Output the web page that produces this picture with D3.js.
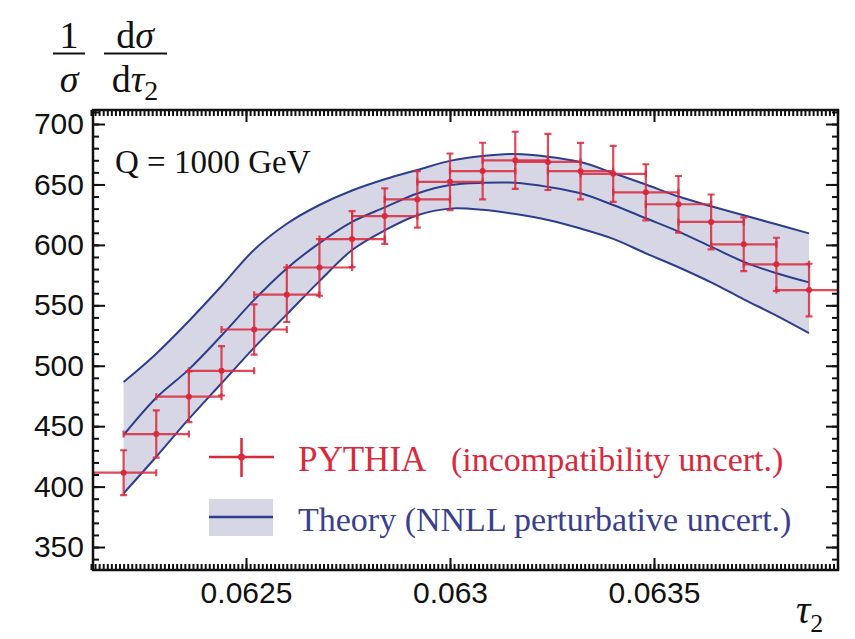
<!DOCTYPE html>
<html>
<head>
<meta charset="utf-8">
<script src="https://d3js.org/d3.v7.min.js"></script>
<style>
  body { margin: 0; background: #fff; }
  .tick text { font-family: "Liberation Sans", Arial, sans-serif; font-size: 30px; fill: #111; }
  .serif { font-family: "Liberation Serif", "Times New Roman", serif; }
</style>
</head>
<body>
<svg width="855" height="639"></svg>
<script>
// PYTHIA points (bin centres in tau2, value, vertical error)
const tau = d3.range(22).map(i => 0.0622 + i * 0.00008)
const halfBin = 0.00008
const pythia = [411.5, 443.5, 474.4, 495.8, 530, 558.8, 581.3, 604.8, 623.8, 637.6, 652.2,
                661.1, 670, 668.6, 661, 658.8, 643.5, 633.6, 619, 600.5, 583.9, 562.6]
const pythiaErr = [18.6, 19.6, 21, 20.4, 20.8, 22.6, 23.4, 23.2, 23, 23.4, 23.4,
                   23.4, 23.6, 23.2, 23.4, 23.2, 23.2, 23.4, 22.7, 22.2, 22, 21.8]
// theory band (NNLL), sampled at the same tau2 values
const theoryUpper = [486.5, 510, 537, 566, 596, 617.5, 633, 645, 654.3, 662, 669.5,
                     673.5, 675.2, 673, 668.5, 659.5, 650, 640, 632, 624.5, 617, 609.5]
const theoryCentral = [442.7, 473.5, 497, 525, 554.5, 580.5, 601.5, 619, 631, 642.5, 649.5,
                       651.4, 651.4, 648, 642.7, 633, 622, 611, 598.5, 586, 576.5, 569]
const theoryLower = [394.4, 424.7, 456, 485.5, 515, 542.5, 570, 595.7, 612, 624.5, 630,
                     629, 625.5, 620.6, 613.5, 605, 593, 581.5, 569, 555, 541.5, 527]

const xTicks = [0.0625, 0.063, 0.0635]
const xTickLabels = ["0.0625", "0.063", "0.0635"]
const xMinor = d3.range(6212, 6396).map(d => d / 100000)
const yTicks = [350, 400, 450, 500, 550, 600, 650, 700]
const yMinor = d3.range(340, 711, 10)

const red = "#d9293d"
const blue = "#2e3d8c"

const svg = d3.select("svg")
const m = {left: 93, right: 838, top: 110, bottom: 570}

const x = d3.scaleLinear().domain([0.062125, 0.063951]).range([m.left, m.right])
const y = d3.scaleLinear().domain([331, 711.6]).range([m.bottom, m.top])

svg.append("defs").append("clipPath").attr("id", "clip")
  .append("rect").attr("x", m.left).attr("y", m.top)
  .attr("width", m.right - m.left).attr("height", m.bottom - m.top)

const rows = tau.map((t, i) => ({
  t: t, v: pythia[i], e: pythiaErr[i],
  hi: theoryUpper[i], mid: theoryCentral[i], lo: theoryLower[i]
}))

const curve = d3.curveCatmullRom.alpha(0.5)

// theory band
const g = svg.append("g").attr("clip-path", "url(#clip)")
g.append("path")
  .datum(rows)
  .attr("fill", "#d6d6e5")
  .attr("d", d3.area().x(d => x(d.t)).y0(d => y(d.lo)).y1(d => y(d.hi)).curve(curve))
;["hi", "mid", "lo"].forEach(k => {
  g.append("path")
    .datum(rows)
    .attr("fill", "none")
    .attr("stroke", blue)
    .attr("stroke-width", 2)
    .attr("d", d3.line().x(d => x(d.t)).y(d => y(d[k])).curve(curve))
})

// PYTHIA error bars
const cap = 3.5
const pts = g.append("g")
  .attr("stroke", red).attr("stroke-width", 2.2).attr("stroke-opacity", 0.85)
  .selectAll("g").data(rows).join("g")
pts.append("line")
  .attr("x1", d => x(d.t - halfBin)).attr("x2", d => x(d.t + halfBin))
  .attr("y1", d => y(d.v)).attr("y2", d => y(d.v))
pts.append("line")
  .attr("x1", d => x(d.t)).attr("x2", d => x(d.t))
  .attr("y1", d => y(d.v - d.e)).attr("y2", d => y(d.v + d.e))
pts.append("path")
  .attr("fill", "none")
  .attr("d", d => {
    const cx = x(d.t), cy = y(d.v)
    const xl = x(d.t - halfBin), xr = x(d.t + halfBin)
    const yt = y(d.v + d.e), yb = y(d.v - d.e)
    return `M${cx - cap},${yt}H${cx + cap}M${cx - cap},${yb}H${cx + cap}` +
           `M${xl},${cy - cap}V${cy + cap}M${xr},${cy - cap}V${cy + cap}`
  })
pts.append("circle")
  .attr("cx", d => x(d.t)).attr("cy", d => y(d.v)).attr("r", 3)
  .attr("fill", red).attr("stroke", "none")

// axes: ticks on all four sides, pointing inwards
function addAxis(axis, transform, labels) {
  const a = svg.append("g").attr("transform", transform).call(axis)
  a.select(".domain").remove()
  a.selectAll(".tick line").attr("stroke", "#111").attr("stroke-width", 2)
  if (!labels) a.selectAll(".tick text").remove()
  return a
}
addAxis(d3.axisBottom(x).tickValues(xMinor).tickSize(-6).tickFormat(""), `translate(0,${m.bottom})`, false)
addAxis(d3.axisTop(x).tickValues(xMinor).tickSize(-6).tickFormat(""), `translate(0,${m.top})`, false)
addAxis(d3.axisLeft(y).tickValues(yMinor).tickSize(-6).tickFormat(""), `translate(${m.left},0)`, false)
addAxis(d3.axisRight(y).tickValues(yMinor).tickSize(-6).tickFormat(""), `translate(${m.right},0)`, false)
addAxis(d3.axisBottom(x).tickValues(xTicks).tickSize(-12).tickPadding(12)
  .tickFormat((d, i) => xTickLabels[i]), `translate(0,${m.bottom})`, true)
addAxis(d3.axisTop(x).tickValues(xTicks).tickSize(-12), `translate(0,${m.top})`, false)
addAxis(d3.axisLeft(y).tickValues(yTicks).tickSize(-12).tickPadding(9), `translate(${m.left},0)`, true)
addAxis(d3.axisRight(y).tickValues(yTicks).tickSize(-12), `translate(${m.right},0)`, false)

svg.append("rect")
  .attr("x", m.left).attr("y", m.top).attr("width", m.right - m.left).attr("height", m.bottom - m.top)
  .attr("fill", "none").attr("stroke", "#111").attr("stroke-width", 2.5)

// Q label
svg.append("text").attr("class", "serif")
  .attr("x", 115).attr("y", 173).attr("font-size", 33).attr("fill", "#111")
  .text("Q = 1000 GeV")

// legend
const lg = svg.append("g").attr("class", "serif").attr("font-size", 34)
lg.append("line").attr("x1", 209).attr("x2", 274).attr("y1", 457).attr("y2", 457)
  .attr("stroke", red).attr("stroke-width", 2.5)
lg.append("line").attr("x1", 241.5).attr("x2", 241.5).attr("y1", 438).attr("y2", 477)
  .attr("stroke", red).attr("stroke-width", 2.5)
lg.append("circle").attr("cx", 241.5).attr("cy", 457).attr("r", 3.5).attr("fill", red)
lg.append("rect").attr("x", 209).attr("y", 499).attr("width", 64).attr("height", 37)
  .attr("fill", "#d6d6e5")
lg.append("line").attr("x1", 209).attr("x2", 273).attr("y1", 517).attr("y2", 517)
  .attr("stroke", blue).attr("stroke-width", 2.5)
const t1 = lg.append("text").attr("y", 471).attr("fill", red)
t1.append("tspan").attr("x", 298).attr("font-size", 35).text("PYTHIA")
t1.append("tspan").attr("x", 451).text("(incompatibility uncert.)")
lg.append("text").attr("x", 298).attr("y", 531).attr("fill", "#3a3f90")
  .text("Theory (NNLL perturbative uncert.)")

// y title: 1/sigma dsigma/dtau2
const yt = svg.append("g").attr("class", "serif").attr("font-size", 38).attr("fill", "#111")
  .attr("text-anchor", "middle")
yt.append("text").attr("x", 69).attr("y", 48).text("1")
yt.append("line").attr("x1", 53).attr("x2", 85).attr("y1", 53.5).attr("y2", 53.5)
  .attr("stroke", "#111").attr("stroke-width", 2)
yt.append("text").attr("x", 69).attr("y", 92).attr("font-style", "italic").text("σ")
const num = yt.append("text").attr("x", 135).attr("y", 48)
num.append("tspan").text("d")
num.append("tspan").attr("font-style", "italic").text("σ")
yt.append("line").attr("x1", 104).attr("x2", 167).attr("y1", 53.5).attr("y2", 53.5)
  .attr("stroke", "#111").attr("stroke-width", 2)
const den = yt.append("text").attr("x", 135).attr("y", 92)
den.append("tspan").text("d")
den.append("tspan").attr("font-style", "italic").text("τ")
den.append("tspan").attr("font-size", 28).attr("dy", 8).text("2")

// x title
const xt = svg.append("text").attr("class", "serif").attr("x", 796).attr("y", 623)
  .attr("fill", "#111").attr("font-size", 40)
xt.append("tspan").attr("font-style", "italic").text("τ")
xt.append("tspan").attr("font-size", 26).attr("dy", 9).text("2")
</script>
</body>
</html>
